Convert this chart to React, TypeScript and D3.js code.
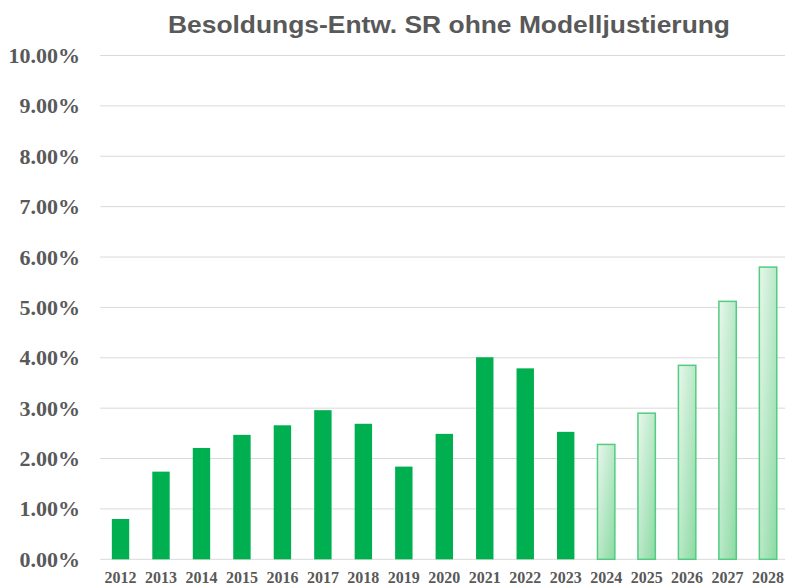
import * as d3 from 'd3'

const years = ['2012', '2013', '2014', '2015', '2016', '2017', '2018', '2019', '2020', '2021', '2022', '2023', '2024', '2025', '2026', '2027', '2028']
const values = [0.8, 1.74, 2.21, 2.47, 2.66, 2.96, 2.69, 1.84, 2.49, 4.01, 3.79, 2.53, 2.28, 2.9, 3.85, 5.12, 5.8]
const forecastYears = ['2024', '2025', '2026', '2027', '2028']
const yTicks = [0, 1, 2, 3, 4, 5, 6, 7, 8, 9, 10]

const width = 785
const height = 585
const left = 100.3
const step = 40.47
const zeroY = 559.3
const topY = 55.5

const App = () => {
  const x = d3
    .scaleBand()
    .domain(years)
    .range([left, left + step * years.length])
    .paddingInner(0.57)
    .paddingOuter(0.285)

  const y = d3.scaleLinear().domain([0, 10]).range([zeroY, topY])

  return (
    <svg
      width={width}
      height={height}
      style={{ position: 'absolute', left: 0, top: 0, background: '#fff', display: 'block' }}
    >
      <defs>
        <linearGradient id="future" x1="0" y1="0" x2="1" y2="1">
          <stop offset="0" stopColor="#e8f7ec" />
          <stop offset="1" stopColor="#8bdaa3" />
        </linearGradient>
      </defs>
      {/* title is drawn wide in the reference, so stretch it */}
      <text
        x={168}
        y={33.3}
        textLength={562}
        lengthAdjust="spacingAndGlyphs"
        fill="#595959"
        style={{ font: 'bold 23px "Liberation Sans", Arial, sans-serif' }}
      >
        Besoldungs-Entw. SR ohne Modelljustierung
      </text>
      {yTicks.map((t) => (
        <g key={t}>
          <line x1={left} x2={width} y1={y(t)} y2={y(t)} stroke="#d9d9d9" strokeWidth={1} />
          <text
            x={80}
            y={y(t) + 7.5}
            textAnchor="end"
            fill="#595959"
            style={{ font: 'bold 22px "Liberation Serif", "Times New Roman", serif' }}
          >
            {t.toFixed(2)}%
          </text>
        </g>
      ))}
      {years.map((yr, i) => {
        const future = forecastYears.includes(yr)
        return (
          <rect
            key={yr}
            x={x(yr)}
            y={y(values[i])}
            width={x.bandwidth()}
            height={y(0) - y(values[i])}
            fill={future ? 'url(#future)' : '#00b050'}
            stroke={future ? '#52cc80' : 'none'}
            strokeWidth={1.5}
          />
        )
      })}
      {years.map((yr) => (
        <text
          key={yr}
          x={(x(yr) ?? 0) + x.bandwidth() / 2}
          y={582.5}
          textAnchor="middle"
          fill="#595959"
          style={{ font: 'bold 16px "Liberation Serif", "Times New Roman", serif' }}
        >
          {yr}
        </text>
      ))}
    </svg>
  )
}

export default App
